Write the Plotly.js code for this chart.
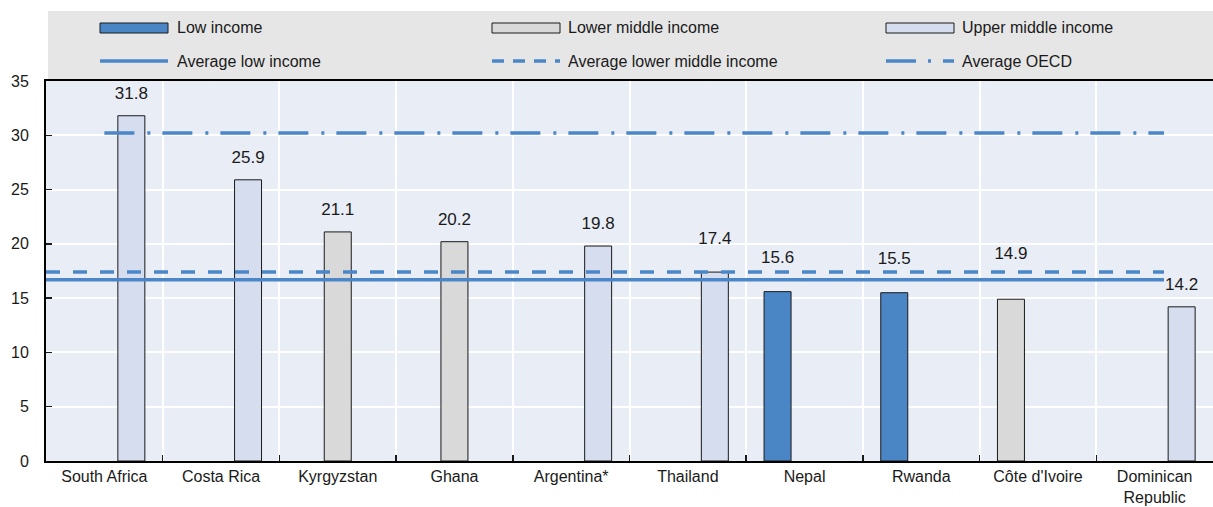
<!DOCTYPE html>
<html>
<head>
<meta charset="utf-8">
<script src="https://cdn.plot.ly/plotly-3.0.1.min.js"></script>
<style>html,body{margin:0;padding:0;background:#fff;} #chart{width:1213px;height:507px;}</style>
</head>
<body>
<div id="chart"></div>
<script>
// ---- data ----
const categories = ["South Africa", "Costa Rica", "Kyrgyzstan", "Ghana", "Argentina*", "Thailand", "Nepal", "Rwanda", "Côte d'Ivoire", "Dominican<br>Republic"];
const lowIncome         = [null, null, null, null, null, null, 15.6, 15.5, null, null];
const lowerMiddleIncome = [null, null, 21.1, 20.2, null, null, null, null, 14.9, null];
const upperMiddleIncome = [31.8, 25.9, null, null, 19.8, 17.4, null, null, null, 14.2];
const avgLowIncome = 16.7;
const avgLowerMiddleIncome = 17.4;
const avgOECD = 30.2;
const seriesNames = ["Low income", "Lower middle income", "Upper middle income"];
const lineNames = ["Average low income", "Average lower middle income", "Average OECD"];

// ---- styles / layout ----
const FONT = "'Liberation Sans', Arial, sans-serif";
const barColors = ["#4a86c5", "#d9d9d9", "#d5ddef"];
const lineColor = "#4a86c8";
const barSlot = [2, 2, 1, 1, 2, 2, 0, 0, 0, 2];     // position slot within each category
const labelLift = [0, 0, 0, 0, 0, 1, 1, 1, 2, 0];   // extra spacer lines to keep labels clear of the average lines
const lineSpan = [[-0.5, 9.08], [-0.5, 9.08], [0, 9.08]];
const lineDash = ["solid", "14px,13px", "30px,13px,3px,12px"];
const labelText = (v, lift) => "<span style='font-size:17px'>" + v.toFixed(1) + "</span><br> " + "<br> ".repeat(lift);

const ML = 46, MT = 81, W = 1213, H = 507, MB = 46;
const PW = W - ML, PH = H - MT - MB;
const px2x = p => (p - ML) / PW;
const py2y = p => (H - MB - p) / PH;

const traces = [];
[lowIncome, lowerMiddleIncome, upperMiddleIncome].forEach((vals, si) => {
  const slots = [...new Set(barSlot.filter((s, i) => vals[i] !== null))];
  slots.forEach(slot => {
    traces.push({
      type: "bar",
      name: seriesNames[si],
      x: categories,
      y: vals.map((v, i) => (barSlot[i] === slot ? v : null)),
      offsetgroup: "g" + slot,
      marker: { color: barColors[si], line: { color: "#1a1a1a", width: 1 } },
      text: vals.map((v, i) => (barSlot[i] === slot && v !== null ? labelText(v, labelLift[i]) : "")),
      textposition: "outside",
      constraintext: "none",
      textfont: { family: FONT, size: 9, color: "#1a1a1a" },
      cliponaxis: false,
      showlegend: false,
      hoverinfo: "x+y"
    });
  });
});

[avgLowIncome, avgLowerMiddleIncome, avgOECD].forEach((v, i) => {
  traces.push({
    type: "scatter",
    mode: "lines",
    name: lineNames[i],
    x: lineSpan[i],
    y: [v, v],
    xaxis: "x2",
    yaxis: "y",
    line: { color: lineColor, width: 3.5, dash: lineDash[i] },
    showlegend: false
  });
});

// ---- manual legend ----
const shapes = [{
  type: "rect", xref: "paper", yref: "paper", layer: "below",
  x0: px2x(48), x1: px2x(1213), y0: py2y(79), y1: py2y(11),
  fillcolor: "#e6e6e6", line: { width: 0 }
}];
const annotations = [];
const colSym = [100, 492, 886];
const colTxt = [175, 566, 960];
const rowY = [28, 61];
seriesNames.forEach((n, i) => {
  shapes.push({
    type: "rect", xref: "paper", yref: "paper",
    x0: px2x(colSym[i]), x1: px2x(colSym[i] + 68), y0: py2y(rowY[0] + 5), y1: py2y(rowY[0] - 5),
    fillcolor: barColors[i], line: { color: "#1a1a1a", width: 1 }
  });
  annotations.push({
    xref: "paper", yref: "paper", x: px2x(colTxt[i]), y: py2y(rowY[0]),
    xanchor: "left", yanchor: "middle", showarrow: false, text: n,
    font: { family: FONT, size: 16, color: "#1a1a1a" }
  });
});
lineNames.forEach((n, i) => {
  shapes.push({
    type: "line", xref: "paper", yref: "paper",
    x0: px2x(colSym[i]), x1: px2x(colSym[i] + 68), y0: py2y(rowY[1]), y1: py2y(rowY[1]),
    line: { color: lineColor, width: 3.5, dash: i === 0 ? "solid" : (i === 1 ? "12px,9px" : "30px,12px,3px,12px") }
  });
  annotations.push({
    xref: "paper", yref: "paper", x: px2x(colTxt[i]), y: py2y(rowY[1]),
    xanchor: "left", yanchor: "middle", showarrow: false, text: n,
    font: { family: FONT, size: 16, color: "#1a1a1a" }
  });
});

const layout = {
  width: W, height: H,
  margin: { l: ML, r: 0, t: MT, b: MB, pad: 0 },
  paper_bgcolor: "#ffffff",
  plot_bgcolor: "#e9edf6",
  barmode: "group",
  bargap: 0.306,
  bargroupgap: 0,
  showlegend: false,
  font: { family: FONT, size: 16, color: "#1a1a1a" },
  xaxis: {
    type: "category",
    tickson: "boundaries",
    ticks: "inside", ticklen: 6, tickwidth: 1.5, tickcolor: "#1a1a1a",
    showgrid: true, gridcolor: "#ffffff", gridwidth: 2,
    showline: true, linecolor: "#000000", linewidth: 2, mirror: true,
    tickfont: { family: FONT, size: 16, color: "#1a1a1a" },
    tickangle: 0,
    ticklabelstandoff: 0,
    range: [-0.5, 9.5],
    fixedrange: true
  },
  xaxis2: { overlaying: "x", range: [-0.5, 9.5], visible: false, fixedrange: true },
  yaxis: {
    range: [0, 35],
    dtick: 5,
    ticks: "inside", ticklen: 6, tickwidth: 1.5, tickcolor: "#1a1a1a",
    showgrid: true, gridcolor: "#ffffff", gridwidth: 2,
    zeroline: false,
    showline: true, linecolor: "#000000", linewidth: 2,
    tickfont: { family: FONT, size: 16, color: "#1a1a1a" },
    ticklabelstandoff: 12,
    fixedrange: true
  },
  shapes: shapes,
  annotations: annotations
};

Plotly.newPlot("chart", traces, layout, { displayModeBar: false, staticPlot: true });
</script>
</body>
</html>
